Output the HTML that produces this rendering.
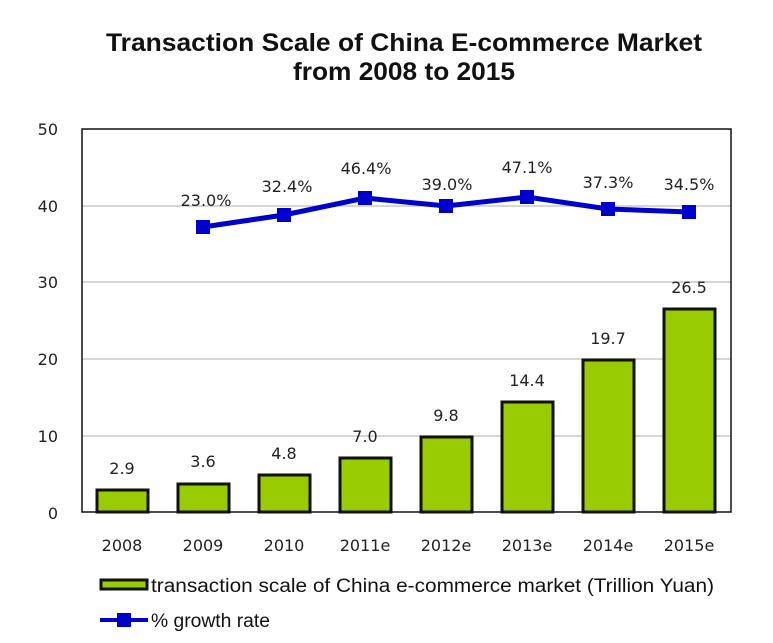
<!DOCTYPE html>
<html><head><meta charset="utf-8"><style>
html,body{margin:0;padding:0;background:#fff;}
svg{display:block}
text{font-family:"DejaVu Sans","Liberation Sans",sans-serif;}
</style></head><body>
<svg width="773" height="643" viewBox="0 0 773 643" xmlns="http://www.w3.org/2000/svg">
<rect width="773" height="643" fill="#fff"/>
<g font-weight="bold" font-size="25" text-anchor="middle" fill="#111">
<text x="404" y="51" textLength="596" lengthAdjust="spacingAndGlyphs" style="font-family:'Liberation Sans',sans-serif">Transaction Scale of China E-commerce Market</text>
<text x="404" y="80" textLength="222" lengthAdjust="spacingAndGlyphs" style="font-family:'Liberation Sans',sans-serif">from 2008 to 2015</text>
</g>
<g stroke="#c8c8c8" stroke-width="1.5">
<line x1="82" y1="206" x2="731" y2="206"/>
<line x1="82" y1="282" x2="731" y2="282"/>
<line x1="82" y1="359" x2="731" y2="359"/>
<line x1="82" y1="436" x2="731" y2="436"/>
</g>
<rect x="82" y="129" width="649" height="383" fill="none" stroke="#111" stroke-width="1.5"/>
<g font-size="16" fill="#222" text-anchor="end">
<text x="58" y="135">50</text>
<text x="58" y="212">40</text>
<text x="58" y="288">30</text>
<text x="58" y="365">20</text>
<text x="58" y="442">10</text>
<text x="58" y="519">0</text>
</g>
<g fill="#99cc00" stroke="#111" stroke-width="3">
<rect x="97" y="490" width="51" height="22"/>
<rect x="178" y="484" width="51" height="28"/>
<rect x="259" y="475" width="51" height="37"/>
<rect x="340" y="458" width="51" height="54"/>
<rect x="421" y="437" width="51" height="75"/>
<rect x="502" y="402" width="51" height="110"/>
<rect x="583" y="360" width="51" height="152"/>
<rect x="664" y="309" width="51" height="203"/>
</g>
<g font-size="16" fill="#222" text-anchor="middle">
<text x="122" y="474">2.9</text>
<text x="203" y="467">3.6</text>
<text x="284" y="459">4.8</text>
<text x="365" y="442">7.0</text>
<text x="446" y="421">9.8</text>
<text x="527" y="386">14.4</text>
<text x="608" y="344">19.7</text>
<text x="689" y="293">26.5</text>
</g>
<polyline points="203,227 284,215 365,198 446,206 527,197 608,209 689,212" fill="none" stroke="#0000cc" stroke-width="5"/>
<g fill="#0000cc">
<rect x="196" y="220" width="14" height="14"/>
<rect x="277" y="208" width="14" height="14"/>
<rect x="358" y="191" width="14" height="14"/>
<rect x="439" y="199" width="14" height="14"/>
<rect x="520" y="190" width="14" height="14"/>
<rect x="601" y="202" width="14" height="14"/>
<rect x="682" y="205" width="14" height="14"/>
</g>
<g font-size="16" fill="#222" text-anchor="middle">
<text x="206" y="206">23.0%</text>
<text x="287" y="192">32.4%</text>
<text x="366" y="174">46.4%</text>
<text x="447" y="190">39.0%</text>
<text x="527" y="173">47.1%</text>
<text x="608" y="188">37.3%</text>
<text x="689" y="190">34.5%</text>
</g>
<g font-size="16" fill="#222" text-anchor="middle">
<text x="122" y="551">2008</text>
<text x="203" y="551">2009</text>
<text x="284" y="551">2010</text>
<text x="365" y="551">2011e</text>
<text x="446" y="551">2012e</text>
<text x="527" y="551">2013e</text>
<text x="608" y="551">2014e</text>
<text x="689" y="551">2015e</text>
</g>
<rect x="101" y="580" width="46" height="9" fill="#99cc00" stroke="#111" stroke-width="3"/>
<text x="151" y="592" font-size="19" fill="#111" textLength="563" lengthAdjust="spacingAndGlyphs" style="font-family:'Liberation Sans',sans-serif">transaction scale of China e-commerce market (Trillion Yuan)</text>
<line x1="100" y1="620" x2="148" y2="620" stroke="#0000cc" stroke-width="4"/>
<rect x="117" y="613" width="14" height="14" fill="#0000cc"/>
<text x="151" y="627" font-size="19" fill="#111" textLength="119" lengthAdjust="spacingAndGlyphs" style="font-family:'Liberation Sans',sans-serif">% growth rate</text>
</svg>
</body></html>
